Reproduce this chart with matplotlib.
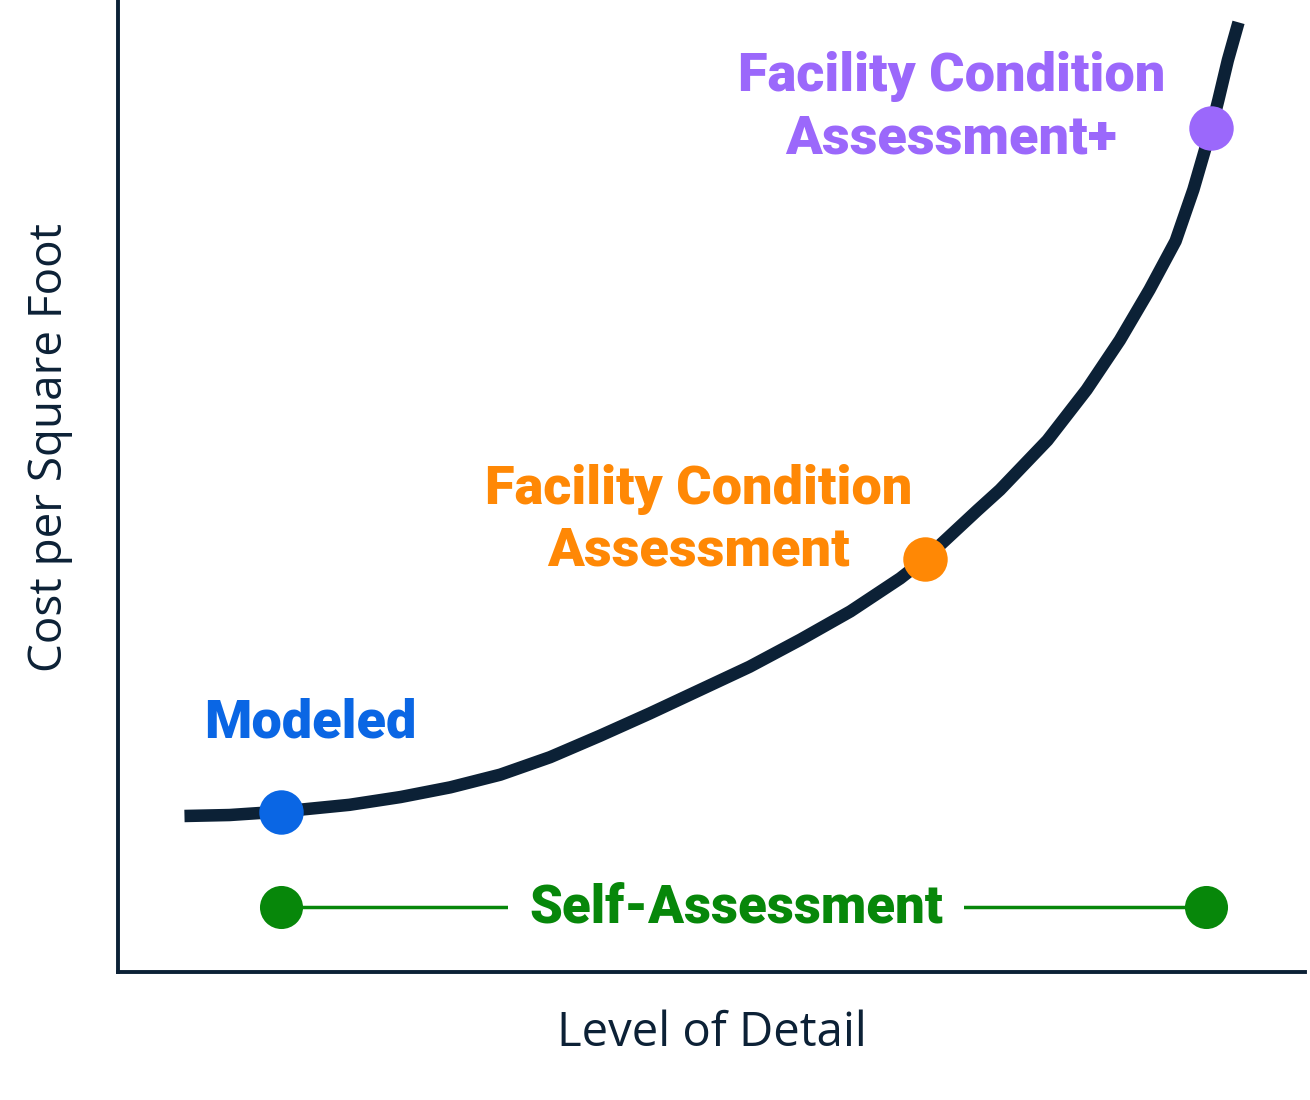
import matplotlib
matplotlib.use("Agg")
import matplotlib.pyplot as plt

# curve of cost vs level of detail (axes units 0-100)
curve_x = [5.6, 9.4, 13.7, 19.5, 23.8, 28.0, 32.2, 36.4, 40.6, 44.8, 49.0, 53.2, 57.5, 61.7,
           65.9, 68.0, 72.4, 74.3, 78.3, 81.6, 84.4, 86.9, 89.1, 90.6, 92.1, 92.7, 93.5, 94.4]
curve_y = [16.05, 16.15, 16.5, 17.2, 18.0, 19.0, 20.3, 22.1, 24.3, 26.6, 29.0, 31.4, 34.2, 37.1,
           40.5, 42.5, 47.5, 49.6, 54.7, 59.9, 65.0, 70.2, 75.2, 80.5, 86.8, 89.7, 93.8, 97.7]

# highlighted assessment types
point_names = ["Modeled", "Facility Condition\nAssessment", "Facility Condition\nAssessment+"]
point_x = [13.7, 68.0, 92.1]
point_y = [16.5, 42.5, 86.8]
point_colors = ["#0a66e4", "#ff8805", "#9b68fb"]
label_x = [16.2, 48.9, 70.2]
label_y = [24.1, 41.8, 84.2]

# self-assessment range
self_x = [13.7, 91.7]
self_y = [6.7, 6.7]
self_label = "Self-Assessment"
self_color = "#07870a"

navy = "#0c2136"
bold_font = ["Roboto", "DejaVu Sans"]

fig = plt.figure(figsize=(13.1, 11), dpi=100)
ax = fig.add_axes([118 / 1310, 128 / 1100, 1187 / 1310, 972 / 1100])
ax.set_xlim(0, 100)
ax.set_ylim(0, 100)

ax.plot(curve_x, curve_y, color=navy, lw=9, solid_capstyle="butt",
        solid_joinstyle="round", zorder=2)

for i in range(len(point_names)):
    ax.plot(point_x[i], point_y[i], "o", ms=32, color=point_colors[i], mec="none", zorder=3)
    ax.text(label_x[i], label_y[i], point_names[i], color=point_colors[i],
            fontsize=39, fontweight="black", family=bold_font,
            ha="center", va="baseline", multialignment="center", linespacing=1.28)

ax.plot(self_x, self_y, color=self_color, lw=2.5, zorder=2)
ax.plot(self_x, self_y, "o", ms=31, color=self_color, mec="none", zorder=3)
ax.text(sum(self_x) / 2 - 0.6, 5.1, self_label, color=self_color,
        fontsize=38, fontweight="black", family=bold_font,
        ha="center", va="baseline", zorder=4,
        bbox=dict(boxstyle="square,pad=0.4", fc="white", ec="none"))

for s in ["top", "right"]:
    ax.spines[s].set_visible(False)
for s in ["left", "bottom"]:
    ax.spines[s].set_color(navy)
    ax.spines[s].set_linewidth(2.8)
ax.set_xticks([])
ax.set_yticks([])

ax.set_xlabel("Level of Detail", fontsize=34, color=navy, family="Open Sans", va="center")
ax.xaxis.set_label_coords(0.5, -0.063)
ax.set_ylabel("Cost per Square Foot", fontsize=33, color=navy, family="Open Sans", va="center")
ax.yaxis.set_label_coords(-0.057, 0.54)

fig.savefig("out.png", dpi=100, facecolor="white")
